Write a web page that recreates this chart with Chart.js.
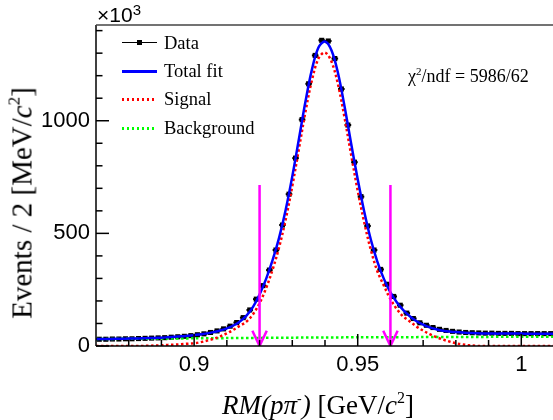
<!DOCTYPE html>
<html>
<head>
<meta charset="utf-8">
<script src="https://cdn.jsdelivr.net/npm/chart.js@4.4.1/dist/chart.umd.min.js"></script>
<style>
  html, body { margin: 0; padding: 0; background: #fff; overflow: hidden; }
  #wrap { position: relative; width: 553px; height: 420px; overflow: hidden; }
  #c { position: absolute; left: 0; top: 0; }
  .t { position: absolute; white-space: nowrap; color: #000; font-family: "Liberation Serif", serif; line-height: 1; }
  .i { font-style: italic; }
  .leg { position: absolute; left: 122px; width: 35px; }
  sup { font-size: 65%; }
</style>
</head>
<body>
<div id="wrap">
  <canvas id="c" width="560" height="420"></canvas>

  <div class="t" style="left:97px; top:2px; font-family:'Liberation Sans',sans-serif; font-size:21px;">&times;10<sup style="font-size:15px; vertical-align:7px;">3</sup></div>

  <div class="leg" style="top:42px; height:0; border-top:1.5px solid #000;"></div>
  <div style="position:absolute; left:137px; top:40px; width:5px; height:5px; background:#000;"></div>
  <div class="t" style="left:164px; top:34px; font-size:18.5px;">Data</div>

  <div class="leg" style="top:70px; height:2.5px; background:#0000ff;"></div>
  <div class="t" style="left:164px; top:62px; font-size:18.5px;">Total fit</div>

  <div class="leg" style="top:98px; height:2.5px; background:repeating-linear-gradient(to right,#ff0000 0 2.5px,transparent 2.5px 5px);"></div>
  <div class="t" style="left:164px; top:90px; font-size:18.5px;">Signal</div>

  <div class="leg" style="top:127px; height:2.5px; background:repeating-linear-gradient(to right,#00ff00 0 2.5px,transparent 2.5px 5px);"></div>
  <div class="t" style="left:164px; top:119px; font-size:18.5px;">Background</div>

  <div class="t" style="left:408px; top:66px; font-size:18px;">&chi;<sup style="font-size:11px; vertical-align:7px;">2</sup>/ndf = 5986/62</div>

  <div class="t" style="left:222px; top:390px; font-size:27px;"><span class="i">RM</span><span class="i">(p&pi;</span><sup style="font-size:14px; vertical-align:11px;">-</sup><span class="i">)</span> [GeV/<span class="i">c</span><sup style="font-size:16px; vertical-align:11px;">2</sup>]</div>

  <div class="t" style="left:21px; top:203px; font-size:29px; transform:translate(-50%,-50%) rotate(-90deg);">Events / 2 [MeV/<span class="i">c</span><sup style="font-size:17px; vertical-align:12px;">2</sup>]</div>
</div>

<script>
// bin centres (2 MeV bins)
const binCenters = [
  0.871,0.873,0.875,0.877,0.879,0.881,0.883,0.885,0.887,0.889,
  0.891,0.893,0.895,0.897,0.899,0.901,0.903,0.905,0.907,0.909,
  0.911,0.913,0.915,0.917,0.919,0.921,0.923,0.925,0.927,0.929,
  0.931,0.933,0.935,0.937,0.939,0.941,0.943,0.945,0.947,0.949,
  0.951,0.953,0.955,0.957,0.959,0.961,0.963,0.965,0.967,0.969,
  0.971,0.973,0.975,0.977,0.979,0.981,0.983,0.985,0.987,0.989,
  0.991,0.993,0.995,0.997,0.999,1.001,1.003,1.005,1.007,1.009
];
// events per bin, x10^3
const dataCounts = [
  30,30,31,31,32,32,33,34,35,36,
  37,39,41,43,46,50,54,60,67,76,
  88,104,126,160,208,268,337,426,537,674,
  834,1005,1164,1290,1357,1354,1276,1141,981,816,
  663,533,426,340,274,220,181,146,122,103,
  92,82,74,69,65,62,60,59,58,57,
  57,56,56,56,55,55,55,55,55,55
];

// fit curves sampled on the bin edges
const fitX = [
  0.870,0.872,0.874,0.876,0.878,0.880,0.882,0.884,0.886,0.888,
  0.890,0.892,0.894,0.896,0.898,0.900,0.902,0.904,0.906,0.908,
  0.910,0.912,0.914,0.916,0.918,0.920,0.922,0.924,0.926,0.928,
  0.930,0.932,0.934,0.936,0.938,0.940,0.942,0.944,0.946,0.948,
  0.950,0.952,0.954,0.956,0.958,0.960,0.962,0.964,0.966,0.968,
  0.970,0.972,0.974,0.976,0.978,0.980,0.982,0.984,0.986,0.988,
  0.990,0.992,0.994,0.996,0.998,1.000,1.002,1.004,1.006,1.008,
  1.010
];
const totalFit = [
  31,31,31,32,32,33,33,34,35,36,
  37,39,41,43,45,48,52,56,62,69,
  78,91,109,135,174,229,298,382,482,606,
  753,917,1083,1227,1325,1352,1312,1210,1062,898,
  740,596,473,375,298,238,193,158,131,110,
  95,83,74,68,64,62,60,58,57,56,
  56,55,55,55,55,55,54,54,54,54,
  54
];
const signalFit = [
  0,0,0,0,0,0,0,0,1,2,
  3,5,6,8,10,12,17,24,32,43,
  56,72,90,108,141,190,257,340,440,563,
  710,873,1038,1180,1276,1303,1262,1160,1012,848,
  690,548,427,332,268,208,163,130,108,86,
  68,53,40,29,20,12,7,3,1,0,
  0,0,0,0,0,0,0,0,0,0,
  0
];
const bkgX = [0.87,0.88,0.89,0.90,0.91,0.92,0.93,0.94,0.95,0.96,0.97,0.98,0.99,1.00,1.01];
const bkgFit = [31,32,33,34,35,36,37,38,38.5,39,39.5,40,40.5,41,41.5];

// signal window arrows
const arrowX = [0.92, 0.96];
const arrowTop = 715;

// axes
const xRange = [0.87, 1.01];
const yRange = [0, 1425];
const xTicks = [0.9, 0.95, 1.0];
const xTickLabels = ['0.9', '0.95', '1'];
const xMinor = [0.88, 0.89, 0.91, 0.92, 0.93, 0.94, 0.96, 0.97, 0.98, 0.99, 1.01];
const yTicks = [0, 500, 1000];
const yTickLabels = ['0', '500', '1000'];
const yMinor = [100, 200, 300, 400, 600, 700, 800, 900, 1100, 1200, 1300, 1400];

const pts = (xs, ys) => xs.map((x, i) => ({ x: x, y: ys[i] }));
const dataPts = pts(binCenters, dataCounts);

const arrowSets = [];
arrowX.forEach(ax => {
  arrowSets.push({
    data: [{ x: ax, y: arrowTop }, { x: ax, y: 0 }],
    borderColor: '#ff00ff', borderWidth: 2.5, pointRadius: 0, order: 0
  });
  arrowSets.push({
    data: [{ x: ax - 0.0022, y: 68 }, { x: ax, y: 0 }, { x: ax + 0.0022, y: 68 }],
    borderColor: '#ff00ff', borderWidth: 2.5, pointRadius: 0, order: 0
  });
});

// ROOT style frame with inward ticks
const frameTicks = {
  id: 'frameTicks',
  afterDraw(chart) {
    const { ctx, chartArea: a, scales: { x, y } } = chart;
    ctx.save();
    ctx.strokeStyle = '#000';
    ctx.lineWidth = 1.5;
    const seg = (x1, y1, x2, y2) => { ctx.beginPath(); ctx.moveTo(x1, y1); ctx.lineTo(x2, y2); ctx.stroke(); };
    xTicks.forEach(v => { const p = x.getPixelForValue(v); seg(p, a.bottom, p, a.bottom - 12); });
    xMinor.forEach(v => { const p = x.getPixelForValue(v); seg(p, a.bottom, p, a.bottom - 6); });
    yTicks.forEach(v => { const p = y.getPixelForValue(v); seg(a.left, p, a.left + 13, p); });
    yMinor.forEach(v => { const p = y.getPixelForValue(v); seg(a.left, p, a.left + 6.5, p); });
    seg(a.left, a.top, a.left, a.bottom);
    seg(a.left, a.bottom, a.right, a.bottom);
    ctx.strokeStyle = '#444';
    seg(a.left, a.top, a.right, a.top);
    seg(a.right, a.top, a.right, a.bottom);
    ctx.restore();
  }
};

new Chart(document.getElementById('c'), {
  type: 'line',
  data: {
    datasets: [
      ...arrowSets,
      { data: pts(fitX, totalFit), borderColor: '#0000ff', borderWidth: 2.5, pointRadius: 0, tension: 0.35, order: 1 },
      { data: pts(fitX, signalFit), borderColor: '#ff0000', borderWidth: 2.5, borderDash: [2.5, 2.5], pointRadius: 0, tension: 0.35, order: 2 },
      { data: pts(bkgX, bkgFit), borderColor: '#00ff00', borderWidth: 2.5, borderDash: [2.5, 2.5], pointRadius: 0, tension: 0.3, order: 3 },
      { data: dataPts, showLine: false, pointStyle: 'line', pointRadius: 3.3, borderColor: '#000', borderWidth: 2, order: 4 },
      { data: dataPts, showLine: false, pointStyle: 'rect', pointRadius: 3.6, backgroundColor: '#000', borderColor: '#000', borderWidth: 0, order: 4 }
    ]
  },
  options: {
    responsive: false,
    devicePixelRatio: 1,
    animation: false,
    layout: { padding: { left: 0, top: 25, right: 5, bottom: 0 } },
    plugins: { legend: { display: false }, tooltip: { enabled: false } },
    scales: {
      x: {
        type: 'linear', min: xRange[0], max: xRange[1],
        afterBuildTicks: s => { s.ticks = xTicks.map(v => ({ value: v })); },
        afterFit: s => { s.height = 74; },
        grid: { display: false, drawTicks: false },
        border: { display: false },
        ticks: {
          padding: 6, color: '#000', maxRotation: 0, autoSkip: false,
          font: { family: 'Liberation Sans', size: 22 },
          callback: v => xTickLabels[xTicks.indexOf(v)]
        }
      },
      y: {
        min: yRange[0], max: yRange[1],
        afterBuildTicks: s => { s.ticks = yTicks.map(v => ({ value: v })); },
        afterFit: s => { s.width = 96; },
        grid: { display: false, drawTicks: false },
        border: { display: false },
        ticks: {
          padding: 6, color: '#000',
          font: { family: 'Liberation Sans', size: 22 },
          callback: v => yTickLabels[yTicks.indexOf(v)]
        }
      }
    }
  },
  plugins: [frameTicks]
});
</script>
</body>
</html>
